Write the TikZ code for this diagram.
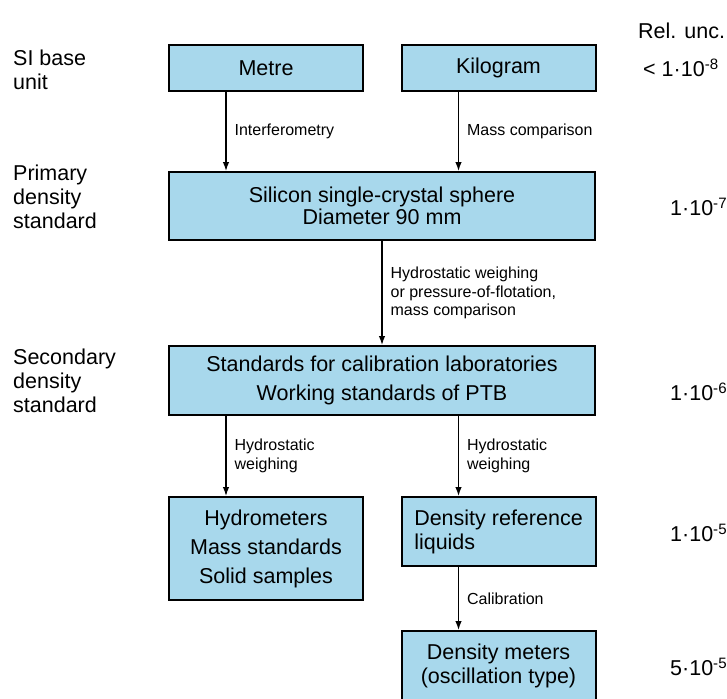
\documentclass[tikz,border=0pt]{standalone}
\usepackage{fontspec}
\setmainfont{Liberation Sans}
\usetikzlibrary{arrows.meta}
\definecolor{boxblue}{RGB}{168,216,236}

\begin{document}
\begin{tikzpicture}
\tikzset{
block/.style={rectangle,draw=black,fill=boxblue,line width=2pt,inner sep=0pt,
minimum width=194pt,minimum height=46pt,align=center,font=\fontsize{21.5}{24}\selectfont},
wideblock/.style={block,minimum width=426pt},
myarrow/.style={-{Latex[length=9pt,width=6.5pt]}, line width=1.3pt},
mylabel/.style={right,align=left,inner xsep=8pt,font=\fontsize{16}{18.5}\selectfont},
sidetext/.style={anchor=west,align=left,inner sep=0pt,font=\fontsize{21.5}{24}\selectfont},
}
\useasboundingbox (0,0) rectangle (727pt,-698pt);

\node [block] (metre) at (266pt,-68pt) {Metre};
\node [block, right of=metre, node distance=232.5pt] (kilogram) {Kilogram};
\node [wideblock, below of=metre, node distance=138pt, xshift=116pt, minimum height=68pt] (sphere) {Silicon single-crystal sphere\\[-2pt]Diameter 90 mm};
\node [wideblock, below of=sphere, node distance=174.5pt, minimum height=69pt] (secondary) {Standards for calibration laboratories\\[5pt]Working standards of PTB};
\node [block, below of=secondary, node distance=168pt, xshift=-116pt, minimum height=103pt] (hydro) {Hydrometers\\[5pt]Mass standards\\[5pt]Solid samples};
\node [block, below of=secondary, node distance=151pt, xshift=116.5pt, minimum height=69pt, align=left] (liquids) {Density reference\\liquids};
\node [block, below of=liquids, node distance=134pt, minimum height=69pt] (meters) {Density meters\\(oscillation type)};

% level names
\node [sidetext] (baseunit) at (13pt,-70pt) {SI base\\unit};
\node [sidetext] (primary) at (13pt,-197pt) {Primary\\density\\standard};
\node [sidetext] (secstd) at (13pt,-381pt) {Secondary\\density\\standard};

% uncertainties
\node [sidetext] (relunc) at (638pt,-31pt) {Rel. unc.};
\node [sidetext] (unc8) at (643pt,-68pt) {< 1·10\textsuperscript{-8}};
\node [sidetext] (unc7) at (670pt,-207pt) {1·10\textsuperscript{-7}};
\node [sidetext] (unc6) at (670pt,-392pt) {1·10\textsuperscript{-6}};
\node [sidetext] (unc5) at (670pt,-533pt) {1·10\textsuperscript{-5}};
\node [sidetext] (unc55) at (670pt,-667pt) {5·10\textsuperscript{-5}};

\coordinate (m1) at ([xshift=58pt]metre.south west);
\coordinate (k1) at ([xshift=58pt]kilogram.south west);
\coordinate (h1) at ([xshift=58pt]hydro.north west);
\coordinate (l1) at ([xshift=58pt]liquids.north west);

\draw[myarrow] (m1) -- node[mylabel] {Interferometry} (m1 |- sphere.north);
\draw[myarrow] (k1) -- node[mylabel] {Mass comparison} (k1 |- sphere.north);
\draw[myarrow] (sphere) -- node[mylabel] {Hydrostatic weighing\\or pressure-of-flotation,\\mass comparison} (secondary);
\draw[myarrow] (h1 |- secondary.south) -- node[mylabel] {Hydrostatic\\weighing} (h1);
\draw[myarrow] (l1 |- secondary.south) -- node[mylabel] {Hydrostatic\\weighing} (l1);
\draw[myarrow] (l1 |- liquids.south) -- node[mylabel] {Calibration} (l1 |- meters.north);
\end{tikzpicture}
\end{document}
